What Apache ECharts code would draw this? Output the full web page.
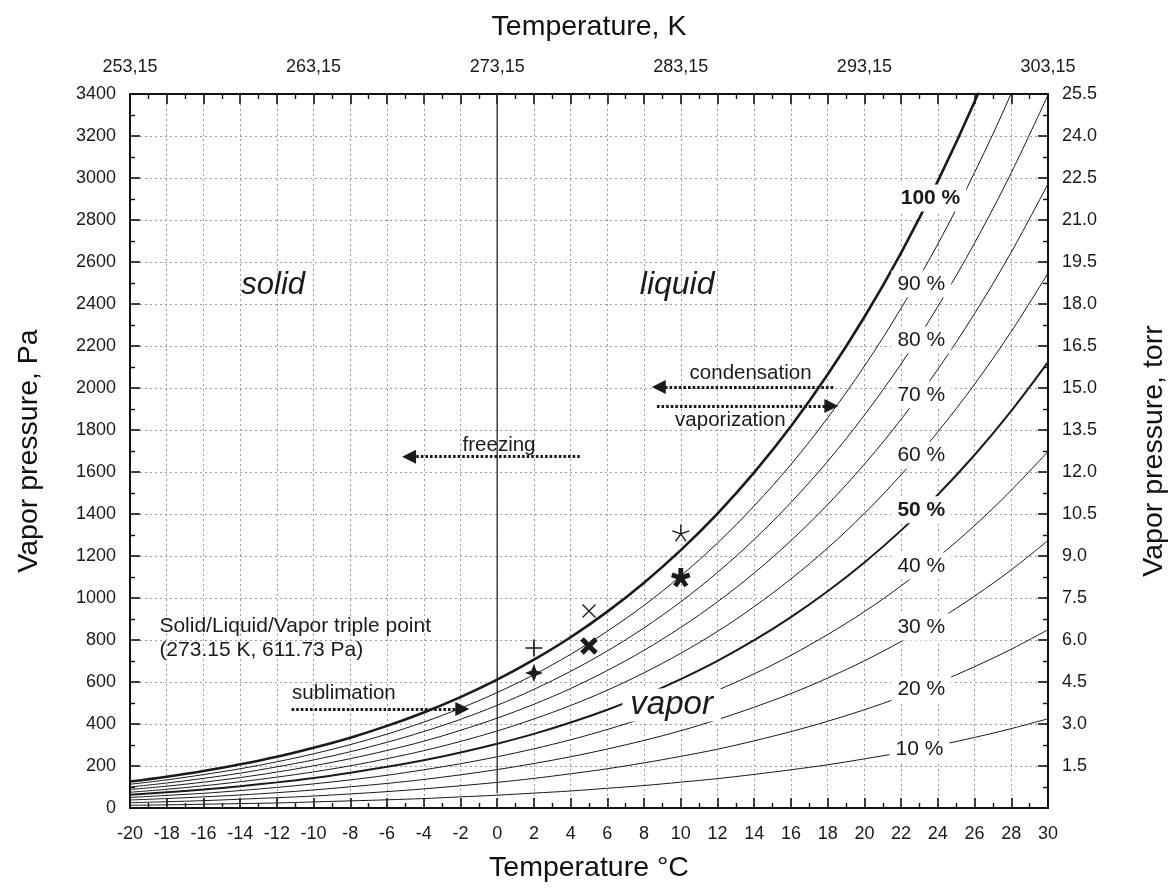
<!DOCTYPE html>
<html><head><meta charset="utf-8">
<script src="https://cdn.jsdelivr.net/npm/echarts@6/dist/echarts.min.js"></script>
<style>html,body{margin:0;padding:0;background:#fff}#c{width:1171px;height:888px}</style>
</head><body><div id="c"></div>
<script>
// ---- data ----
const tempC = [-20,-18,-16,-14,-12,-10,-8,-6,-4,-2,0,2,4,6,8,10,12,14,16,18,20,22,24,26,28,30];
const rh100 = [126,149,176,208,244,287,335,391,455,528,611,706,813,935,1073,1228,1402,1598,1818,2064,2338,2644,2985,3363,3782,4245];
const rh90  = [113,134,159,187,220,258,302,352,409,475,550,635,732,842,965,1105,1262,1439,1636,1858,2104,2380,2686,3026,3403,3821];
const rh80  = [100,119,141,166,196,229,268,313,364,422,489,565,651,748,858,982,1122,1279,1455,1651,1871,2115,2388,2690,3025,3396];
const rh70  = [88,104,123,145,171,201,235,274,318,370,428,494,569,655,751,860,982,1119,1273,1445,1637,1851,2089,2354,2647,2972];
const rh60  = [75,89,106,125,147,172,201,235,273,317,367,424,488,561,644,737,841,959,1091,1238,1403,1587,1791,2018,2269,2547];
const rh50  = [63,75,88,104,122,143,168,196,227,264,306,353,407,468,536,614,701,799,909,1032,1169,1322,1492,1681,1891,2123];
const rh40  = [50,60,70,83,98,115,134,156,182,211,244,282,325,374,429,491,561,639,727,826,935,1058,1194,1345,1513,1698];
const rh30  = [38,45,53,62,73,86,101,117,136,158,183,212,244,281,322,368,421,480,545,619,701,793,895,1009,1134,1274];
const rh20  = [25,30,35,42,49,57,67,78,91,106,122,141,163,187,215,246,280,320,364,413,468,529,597,673,756,849];
const rh10  = [13,15,18,21,24,29,34,39,45,53,61,71,81,94,107,123,140,160,182,206,234,264,298,336,378,425];

const curveNames  = ['100 %','90 %','80 %','70 %','60 %','50 %','40 %','30 %','20 %','10 %'];
const curveValues = [rh100, rh90, rh80, rh70, rh60, rh50, rh40, rh30, rh20, rh10];
const curveLabelAt = [[23.6,2905],[23.1,2495],[23.1,2228],[23.1,1968],[23.1,1680],[23.1,1420],[23.1,1152],[23.1,862],[23.1,565],[23.0,278]];

const kelvinTemps  = [-20,-10,0,10,20,30];
const kelvinLabels = ['253,15','263,15','273,15','283,15','293,15','303,15'];
const torrLabels   = ['1.5','3.0','4.5','6.0','7.5','9.0','10.5','12.0','13.5','15.0','16.5','18.0','19.5','21.0','22.5','24.0','25.5'];

const tripleLine = [[0,70],[0,3400]];

const markerPts = {
  plusThin:  [2, 762],
  starFill:  [2, 643],
  xThin:     [5, 938],
  xBold:     [5, 771],
  astThin:   [10, 1310],
  astBold:   [10, 1100]
};

const arrowNames  = ['freezing','condensation','vaporization','sublimation'];
const arrowCoords = [[[4.5,1673],[-4.8,1673]],[[18.3,2005],[8.8,2005]],[[8.7,1914],[18.2,1914]],[[-11.2,471],[-1.9,471]]];

const noteTexts = ['freezing','condensation','vaporization','sublimation','Solid/Liquid/Vapor triple point\n(273.15 K, 611.73 Pa)'];
const notePos   = [[0.1,1725],[13.8,2071],[12.7,1848],[-8.35,548],[-18.4,807]];

const phaseTexts = ['solid','liquid','vapor'];
const phasePos   = [[-12.2,2490],[9.8,2490],[9.5,490]];

// ---- chart ----
const FONT = '"Liberation Sans", Arial, sans-serif';
const INK = '#1a1a1a';
const chart = echarts.init(document.getElementById('c'));

function pair(arr){ return tempC.map((t,i)=>[t, arr[i]]); }

const series = [];
curveValues.forEach((vals, i) => {
  const name = curveNames[i];
  const w = name === '100 %' ? 2.6 : (name === '50 %' ? 2 : 1);
  series.push({
    type: 'line', name, data: pair(vals), smooth: 0.35, showSymbol: false, symbol: 'none',
    lineStyle: {color: INK, width: w}, z: 3, silent: true, animation: false, clip: true
  });
});

series.push({type:'line', data: tripleLine, symbol:'none', lineStyle:{color:'#333', width:1.4}, z:2, animation:false, silent:true});

const opaque = {opacity: 1};

// curve labels (white boxes break the curves)
series.push({
  type: 'scatter', symbolSize: 0, z: 6, animation: false, silent: true, itemStyle: opaque,
  data: curveNames.map((n,i)=>({value:[curveLabelAt[i][0], curveLabelAt[i][1]], name:n,
    label:{fontWeight: (n==='100 %'||n==='50 %') ? 'bold':'normal'}})),
  label: {show:true, position:'inside', formatter: p => p.name, fontFamily: FONT, fontSize: 21,
    color: INK, backgroundColor:'#fff', padding:[3,6]}
});

// phase names
series.push({
  type: 'scatter', symbolSize: 0, z: 7, animation: false, silent: true, itemStyle: opaque,
  data: phaseTexts.map((n,i)=>({value: phasePos[i], name:n,
    label: n==='vapor' ? {backgroundColor:'#fff', padding:[0,8], fontSize: 33} : (n==='liquid' ? {fontSize: 32} : {})})),
  label: {show:true, position:'inside', formatter: p => p.name, fontFamily: FONT, fontSize: 31,
    fontStyle:'italic', color: INK}
});

// notes
series.push({
  type: 'scatter', symbolSize: 0, z: 7, animation: false, silent: true, itemStyle: opaque,
  data: noteTexts.map((n,i)=>({value: notePos[i], name:n,
    label: i===4 ? {align:'left', lineHeight: 24, fontSize: 21} : {}})),
  label: {show:true, position:'inside', formatter: p => p.name, fontFamily: FONT, fontSize: 20.5, color: INK}
});

// arrows
series.push({
  type: 'lines', coordinateSystem: 'cartesian2d', z: 5, animation: false, silent: true,
  symbol: ['none','triangle'], symbolSize: [0, 14],
  lineStyle: {color: INK, width: 2.8, type: [2.6, 2], opacity: 1},
  data: arrowCoords.map((c,i)=>({name: arrowNames[i], coords: c}))
});

// markers
function astPath(){
  let s = '';
  for (let k=0;k<5;k++){ const a = (-90 + 72*k)*Math.PI/180;
    s += 'M10,10 L' + (10+10*Math.cos(a)).toFixed(2) + ',' + (10+10*Math.sin(a)).toFixed(2) + ' '; }
  return 'path://' + s;
}
const strokeSym = (sym, size, w) => ({type:'scatter', symbol: sym, symbolSize: size, z: 8, animation:false, silent:true,
  itemStyle:{color:'rgba(0,0,0,0)', borderColor: INK, borderWidth: w, opacity: 1}});
series.push(Object.assign(strokeSym('path://M10,0 L10,20 M0,10 L20,10', 17, 1.6), {data:[markerPts.plusThin]}));
series.push({type:'scatter', symbol:'path://M10,0 L12.8,7.2 L20,10 L12.8,12.8 L10,20 L7.2,12.8 L0,10 L7.2,7.2 Z',
  symbolSize: 18, z:8, animation:false, silent:true, itemStyle:{color: INK, opacity: 1}, data:[markerPts.starFill]});
series.push(Object.assign(strokeSym('path://M0,0 L20,20 M20,0 L0,20', 13, 1.4), {data:[markerPts.xThin]}));
series.push(Object.assign(strokeSym('path://M0,0 L20,20 M20,0 L0,20', 14, 5), {data:[markerPts.xBold]}));
series.push(Object.assign(strokeSym(astPath(), 17, 1.4), {data:[markerPts.astThin]}));
series.push(Object.assign(strokeSym(astPath(), 18, 4.8), {data:[markerPts.astBold]}));

const axisLine = {show:true, onZero:false, lineStyle:{color:'#111', width:2}};
const tick = {show:true, inside:true, length:10, lineStyle:{color:'#111', width:1.6}};
const minor = {show:true, splitNumber:2, length:5, lineStyle:{color:'#111', width:1.4}};
const split = {show:true, lineStyle:{color:'#9c9c9c', width:1, type:[2,3]}};
const lab = {fontFamily: FONT, fontSize: 18, color: '#1a1a1a'};
const titleStyle = {fontFamily:FONT, fontSize:28.5, color:'#111'};

chart.setOption({
  animation: false,
  backgroundColor: '#fff',
  grid: {left:130, right:123, top:94, bottom:80, containLabel:false, outerBoundsMode:'none'},
  xAxis: [
    {type:'value', position:'bottom', min:-20, max:30, interval:2,
     axisLine, axisTick: tick, minorTick: minor, splitLine: split, minorSplitLine:{show:false},
     axisLabel: Object.assign({margin:17, showMinLabel:true, showMaxLabel:true, formatter: v => String(v)}, lab),
     name:'Temperature °C', nameLocation:'middle', nameGap:46, nameTextStyle: titleStyle},
    {type:'value', position:'top', min:-20, max:30, interval:2,
     axisLine, axisTick: tick, minorTick: minor, splitLine:{show:false},
     axisLabel: Object.assign({margin:18, showMinLabel:true, showMaxLabel:true,
       formatter: v => { const k = kelvinTemps.indexOf(Math.round(v)); return k >= 0 ? kelvinLabels[k] : ''; }}, lab),
     name:'Temperature, K', nameLocation:'middle', nameGap:52, nameTextStyle: titleStyle}
  ],
  yAxis: [
    {type:'value', position:'left', min:0, max:3400, interval:200,
     axisLine, axisTick: tick, minorTick: minor, splitLine: split,
     axisLabel: Object.assign({margin:14, showMinLabel:true, showMaxLabel:true, formatter: v => String(v)}, lab),
     name:'Vapor pressure, Pa', nameLocation:'middle', nameGap:86, nameRotate:90, nameTextStyle: titleStyle},
    {type:'value', position:'right', min:0, max:3400, interval:200,
     axisLine, axisTick: tick, minorTick: minor, splitLine:{show:false},
     axisLabel: Object.assign({margin:14, showMinLabel:true, showMaxLabel:true,
       formatter: v => { const k = Math.round(v/200) - 1; return k >= 0 ? torrLabels[k] : ''; }}, lab),
     name:'Vapor pressure, torr', nameLocation:'middle', nameGap:92, nameRotate:90, nameTextStyle: titleStyle}
  ],
  series
});
</script></body></html>
